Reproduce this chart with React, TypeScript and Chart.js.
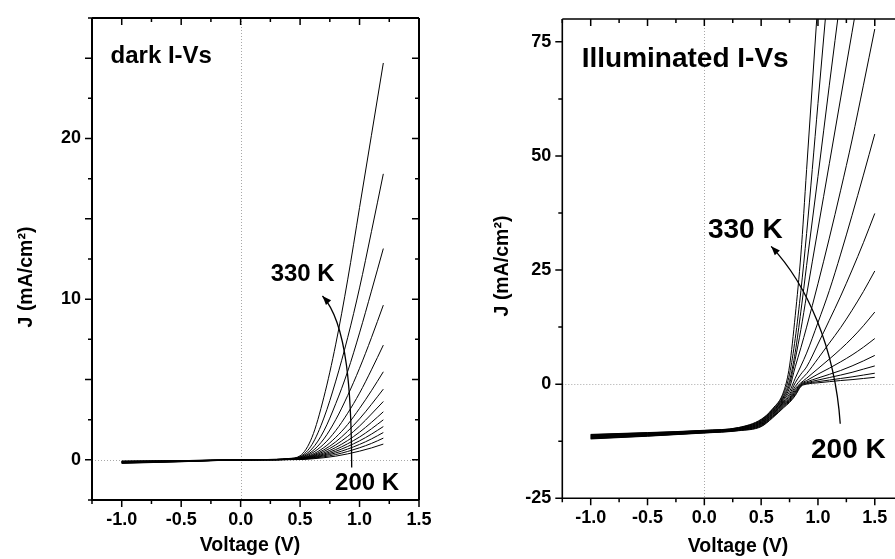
import React, { useEffect, useRef } from "react";
import { Chart, registerables } from "chart.js";
Chart.register(...registerables);

// ---------- DATA ----------
const TEMPS = [330, 320, 310, 300, 290, 280, 270, 260, 250, 240, 230, 220, 210, 200];

// Dark I-V (left panel)
const DARK_V = [-1.0, -0.5, 0.0, 0.3, 0.4, 0.5, 0.6, 0.7, 0.8, 0.9, 1.0, 1.1, 1.2];
const DARK_J = [
  [-0.22, -0.12, 0, 0.03, 0.08, 0.25, 1.4, 3.9, 7.2, 11.2, 15.7, 20.2, 24.7], // 330 K
  [-0.2, -0.11, 0, 0.03, 0.07, 0.2, 0.95, 2.6, 4.9, 7.6, 10.7, 14.2, 17.8],
  [-0.19, -0.1, 0, 0.02, 0.06, 0.17, 0.68, 1.8, 3.5, 5.5, 7.9, 10.5, 13.15],
  [-0.18, -0.1, 0, 0.02, 0.05, 0.14, 0.52, 1.3, 2.5, 4.0, 5.7, 7.6, 9.63],
  [-0.17, -0.09, 0, 0.02, 0.05, 0.12, 0.42, 0.98, 1.82, 2.9, 4.15, 5.6, 7.14],
  [-0.16, -0.09, 0, 0.02, 0.04, 0.1, 0.33, 0.76, 1.4, 2.2, 3.2, 4.3, 5.48],
  [-0.15, -0.08, 0, 0.01, 0.04, 0.09, 0.27, 0.62, 1.12, 1.78, 2.55, 3.45, 4.4],
  [-0.14, -0.08, 0, 0.01, 0.03, 0.08, 0.23, 0.52, 0.93, 1.46, 2.1, 2.85, 3.63],
  [-0.13, -0.07, 0, 0.01, 0.03, 0.07, 0.2, 0.43, 0.77, 1.2, 1.72, 2.33, 2.99],
  [-0.12, -0.07, 0, 0.01, 0.03, 0.06, 0.17, 0.36, 0.64, 1.0, 1.42, 1.93, 2.49],
  [-0.11, -0.06, 0, 0.01, 0.02, 0.05, 0.14, 0.3, 0.53, 0.83, 1.18, 1.6, 2.07],
  [-0.1, -0.06, 0, 0.01, 0.02, 0.04, 0.12, 0.25, 0.43, 0.67, 0.96, 1.3, 1.7],
  [-0.09, -0.05, 0, 0, 0.02, 0.03, 0.09, 0.19, 0.33, 0.52, 0.75, 1.02, 1.35],
  [-0.08, -0.05, 0, 0, 0.01, 0.02, 0.06, 0.13, 0.23, 0.37, 0.54, 0.74, 0.98], // 200 K
];

// Illuminated I-V (right panel)
const LIGHT_V = [-1.0, -0.5, 0.0, 0.3, 0.5, 0.6, 0.7, 0.75, 0.8, 0.85, 0.9, 1.0, 1.1, 1.2, 1.3, 1.4, 1.5];
const LIGHT_J = [
  [-11.0, -10.6, -10.1, -9.5, -7.7, -5.4, -1.5, 4, 15, 28.5, 47, 84, null, null, null, null, null], // 330 K
  [-11.08, -10.66, -10.15, -9.55, -7.82, -5.55, -2.0, 2.2, 10, 20.5, 33, 61.5, 90, null, null, null, null],
  [-11.15, -10.72, -10.19, -9.61, -7.95, -5.71, -2.5, 0.8, 7, 16, 26, 45.5, 65.5, 85, null, null, null],
  [-11.23, -10.78, -10.24, -9.66, -8.07, -5.86, -2.8, 0.0, 5.5, 12, 19.5, 34, 48.3, 62.7, 77.1, 91.5, null],
  [-11.31, -10.85, -10.28, -9.72, -8.19, -6.02, -3.1, -0.8, 3.8, 8, 12.5, 22, 32, 42.5, 53.5, 65.5, 77.8],
  [-11.38, -10.91, -10.33, -9.77, -8.32, -6.17, -3.4, -1.6, 1.3, 4, 6.8, 13.5, 20.5, 28.5, 37, 45.8, 54.8],
  [-11.46, -10.97, -10.38, -9.82, -8.44, -6.32, -3.7, -2.2, 0.3, 2.2, 3.8, 8.8, 14, 19.3, 25, 31, 37.4],
  [-11.54, -11.03, -10.42, -9.88, -8.56, -6.48, -3.9, -2.6, -0.5, 1.0, 2.3, 5.6, 9, 12.4, 16.2, 20.3, 24.8],
  [-11.62, -11.09, -10.47, -9.93, -8.68, -6.63, -4.1, -3.0, -1.0, 0.3, 1.3, 3.4, 5.5, 7.7, 10.1, 12.8, 15.8],
  [-11.69, -11.15, -10.52, -9.98, -8.81, -6.78, -4.3, -3.2, -1.4, 0.1, 0.8, 2.2, 3.5, 4.9, 6.4, 8.1, 10.0],
  [-11.77, -11.22, -10.56, -10.04, -8.93, -6.94, -4.5, -3.4, -1.7, -0.05, 0.5, 1.35, 2.15, 3.0, 4.0, 5.1, 6.3],
  [-11.85, -11.28, -10.61, -10.09, -9.05, -7.09, -4.7, -3.6, -2.0, -0.2, 0.3, 0.9, 1.45, 2.0, 2.6, 3.3, 4.0],
  [-11.92, -11.34, -10.65, -10.15, -9.18, -7.25, -4.9, -3.8, -2.3, -0.35, 0.15, 0.55, 0.9, 1.25, 1.6, 2.0, 2.4],
  [-12.0, -11.4, -10.7, -10.2, -9.3, -7.4, -5.1, -4.0, -2.5, -0.5, 0.0, 0.3, 0.55, 0.8, 1.0, 1.25, 1.5], // 200 K
];

// Tick labels
const X_TICKS = [-1.0, -0.5, 0.0, 0.5, 1.0, 1.5];
const DARK_Y_TICKS = [0, 10, 20];
const LIGHT_Y_TICKS = [-25, 0, 25, 50, 75];

// Annotation texts (data coordinates)
const DARK_TEXTS = [
  { text: "dark I-Vs", x: -1.094, y: 24.67, size: 24 },
  { text: "330 K", x: 0.2525, y: 11.14, size: 24 },
  { text: "200 K", x: 0.794, y: -1.89, size: 24 },
];
const LIGHT_TEXTS = [
  { text: "Illuminated I-Vs", x: -1.079, y: 69.4, size: 28 },
  { text: "330 K", x: 0.0316, y: 32.0, size: 28 },
  { text: "200 K", x: 0.9386, y: -16.1, size: 28 },
];
// Curved arrows (cubic bezier, data coordinates: start, ctrl1, ctrl2, tip)
const DARK_ARROW = [[0.934, -0.47], [0.932, 4], [0.9, 8.5], [0.688, 10.2]];
const LIGHT_ARROW = [[1.196, -8.67], [1.15, 8], [0.9, 22], [0.588, 30.2]];

const FONT = '"Liberation Sans", Arial, Helvetica, sans-serif';

type PanelCfg = {
  xMin: number; xMax: number; yMin: number; yMax: number;
  yTicks: number[]; yMinorStep: number; yMajorStep: number;
  texts: { text: string; x: number; y: number; size: number }[];
  arrow: number[][];
  rightBorder: boolean;
  frameWidth: number;
  xTitlePos: [number, number];
  yTitlePos: [number, number];
  padTop: number; padRight: number; yWidth: number; xHeight: number;
};

function makeOverlay(cfg: PanelCfg) {
  return {
    id: "overlay",
    beforeDatasetsDraw(chart: any) {
      const { ctx, chartArea: a, scales } = chart;
      const x0 = Math.round(scales.x.getPixelForValue(0)) + 0.5;
      const y0 = Math.round(scales.y.getPixelForValue(0)) + 0.5;
      ctx.save();
      ctx.strokeStyle = "#a8a8a8";
      ctx.lineWidth = 1;
      ctx.setLineDash([1, 2]);
      ctx.beginPath();
      ctx.moveTo(x0, a.top);
      ctx.lineTo(x0, a.bottom);
      ctx.moveTo(a.left, y0);
      ctx.lineTo(a.right, y0);
      ctx.stroke();
      ctx.restore();
    },
    afterDatasetsDraw(chart: any) {
      const { ctx, chartArea: a, scales } = chart;
      const xs = scales.x, ys = scales.y;
      ctx.save();
      ctx.strokeStyle = "#000";
      ctx.fillStyle = "#000";
      // frame
      ctx.lineWidth = cfg.frameWidth;
      ctx.beginPath();
      ctx.moveTo(a.left, a.top);
      ctx.lineTo(a.left, a.bottom);
      ctx.lineTo(a.right + (cfg.rightBorder ? 0 : 2), a.bottom);
      ctx.moveTo(a.left, a.top);
      ctx.lineTo(a.right + (cfg.rightBorder ? 0 : 2), a.top);
      if (cfg.rightBorder) {
        ctx.moveTo(a.right, a.top);
        ctx.lineTo(a.right, a.bottom);
      }
      ctx.stroke();
      // ticks
      ctx.lineWidth = 1.5;
      ctx.beginPath();
      for (let v = Math.ceil(cfg.xMin / 0.25 - 1e-6) * 0.25; v <= cfg.xMax + 1e-6; v += 0.25) {
        const major = Math.abs(v / 0.5 - Math.round(v / 0.5)) < 1e-6;
        const len = major ? 7 : 4;
        const px = xs.getPixelForValue(v);
        ctx.moveTo(px, a.bottom);
        ctx.lineTo(px, a.bottom + len);
        ctx.moveTo(px, a.top);
        ctx.lineTo(px, a.top + len);
      }
      for (let v = Math.ceil(cfg.yMin / cfg.yMinorStep - 1e-6) * cfg.yMinorStep; v <= cfg.yMax + 1e-6; v += cfg.yMinorStep) {
        const major = Math.abs(v / cfg.yMajorStep - Math.round(v / cfg.yMajorStep)) < 1e-6;
        const len = major ? 7 : 4;
        const py = ys.getPixelForValue(v);
        ctx.moveTo(a.left - len, py);
        ctx.lineTo(a.left, py);
        if (cfg.rightBorder) {
          ctx.moveTo(a.right - len, py);
          ctx.lineTo(a.right, py);
        }
      }
      ctx.stroke();
      // texts
      ctx.textAlign = "left";
      ctx.textBaseline = "alphabetic";
      for (const t of cfg.texts) {
        ctx.font = `bold ${t.size}px ${FONT}`;
        ctx.fillText(t.text, xs.getPixelForValue(t.x), ys.getPixelForValue(t.y));
      }
      // arrow
      const P = cfg.arrow.map((p) => [xs.getPixelForValue(p[0]), ys.getPixelForValue(p[1])]);
      ctx.lineWidth = 1.3;
      ctx.beginPath();
      ctx.moveTo(P[0][0], P[0][1]);
      ctx.bezierCurveTo(P[1][0], P[1][1], P[2][0], P[2][1], P[3][0], P[3][1]);
      ctx.stroke();
      const ang = Math.atan2(P[3][1] - P[2][1], P[3][0] - P[2][0]);
      const hl = 9, hw = 3.5;
      const bx = P[3][0] - hl * Math.cos(ang), by = P[3][1] - hl * Math.sin(ang);
      ctx.beginPath();
      ctx.moveTo(P[3][0], P[3][1]);
      ctx.lineTo(bx + hw * Math.sin(ang), by - hw * Math.cos(ang));
      ctx.lineTo(bx - hw * Math.sin(ang), by + hw * Math.cos(ang));
      ctx.closePath();
      ctx.fill();
      // axis titles
      ctx.font = `bold 19.5px ${FONT}`;
      ctx.textAlign = "center";
      ctx.textBaseline = "middle";
      ctx.fillText("Voltage (V)", cfg.xTitlePos[0], cfg.xTitlePos[1]);
      ctx.save();
      ctx.translate(cfg.yTitlePos[0], cfg.yTitlePos[1]);
      ctx.rotate(-Math.PI / 2);
      ctx.fillText("J (mA/cm\u00B2)", 0, 0);
      ctx.restore();
      ctx.restore();
    },
  };
}

function buildDatasets(V: number[], rows: (number | null)[][]) {
  return rows.map((row, i) => ({
    label: `${TEMPS[i]} K`,
    data: V.map((v, k) => ({ x: v, y: row[k] })).filter((p) => p.y !== null),
    borderColor: "#000",
    borderWidth: 1,
    pointRadius: 0,
    fill: false,
    cubicInterpolationMode: "monotone" as const,
  }));
}

function makeConfig(V: number[], rows: (number | null)[][], cfg: PanelCfg) {
  const tickFont = { family: FONT, size: 18, weight: "bold" as const };
  return {
    type: "line" as const,
    data: { datasets: buildDatasets(V, rows) },
    options: {
      responsive: false,
      animation: false as const,
      layout: { padding: { top: cfg.padTop, right: cfg.padRight, left: 0, bottom: 0 } },
      plugins: { legend: { display: false }, tooltip: { enabled: false } },
      scales: {
        x: {
          type: "linear" as const,
          min: cfg.xMin,
          max: cfg.xMax,
          afterBuildTicks: (s: any) => { s.ticks = X_TICKS.map((v) => ({ value: v })); },
          afterFit: (s: any) => { s.height = cfg.xHeight; },
          ticks: { callback: (v: any) => Number(v).toFixed(1), font: tickFont, color: "#000", padding: 2, maxRotation: 0, autoSkip: false },
          grid: { display: true, drawOnChartArea: false, drawTicks: true, tickLength: 7, color: "rgba(0,0,0,0)" },
          border: { display: false },
        },
        y: {
          type: "linear" as const,
          min: cfg.yMin,
          max: cfg.yMax,
          afterBuildTicks: (s: any) => { s.ticks = cfg.yTicks.map((v) => ({ value: v })); },
          afterFit: (s: any) => { s.width = cfg.yWidth; },
          ticks: { callback: (v: any) => String(v), font: tickFont, color: "#000", padding: 4, autoSkip: false },
          grid: { display: true, drawOnChartArea: false, drawTicks: true, tickLength: 7, color: "rgba(0,0,0,0)" },
          border: { display: false },
        },
      },
    },
    plugins: [makeOverlay(cfg)],
  };
}

const DARK_CFG: PanelCfg = {
  xMin: -1.25, xMax: 1.5, yMin: -2.5, yMax: 27.5,
  yTicks: DARK_Y_TICKS, yMinorStep: 2.5, yMajorStep: 5,
  texts: DARK_TEXTS, arrow: DARK_ARROW, rightBorder: true, frameWidth: 2,
  xTitlePos: [250, 546], yTitlePos: [27, 277],
  padTop: 18, padRight: 26, yWidth: 92, xHeight: 59,
};
const LIGHT_CFG: PanelCfg = {
  xMin: -1.25, xMax: 1.678, yMin: -25, yMax: 80,
  yTicks: LIGHT_Y_TICKS, yMinorStep: 12.5, yMajorStep: 25,
  texts: LIGHT_TEXTS, arrow: LIGHT_ARROW, rightBorder: false, frameWidth: 1.6,
  xTitlePos: [293, 547], yTitlePos: [58, 266],
  padTop: 19, padRight: 0, yWidth: 117.3, xHeight: 60.7,
};

function Panel({ V, rows, cfg, left, width }: { V: number[]; rows: (number | null)[][]; cfg: PanelCfg; left: number; width: number }) {
  const ref = useRef<HTMLCanvasElement>(null);
  useEffect(() => {
    if (!ref.current) return;
    const chart = new Chart(ref.current, makeConfig(V, rows, cfg) as any);
    return () => chart.destroy();
  }, []);
  return (
    <canvas
      ref={ref}
      width={width}
      height={559}
      style={{ position: "absolute", left, top: 0, width, height: 559, display: "block" }}
    />
  );
}

export default function App() {
  return (
    <div style={{ position: "fixed", left: 0, top: 0, width: 895, height: 559, background: "#fff", overflow: "hidden" }}>
      <Panel V={DARK_V} rows={DARK_J} cfg={DARK_CFG} left={0} width={445} />
      <Panel V={LIGHT_V} rows={LIGHT_J} cfg={LIGHT_CFG} left={445} width={450} />
    </div>
  );
}
